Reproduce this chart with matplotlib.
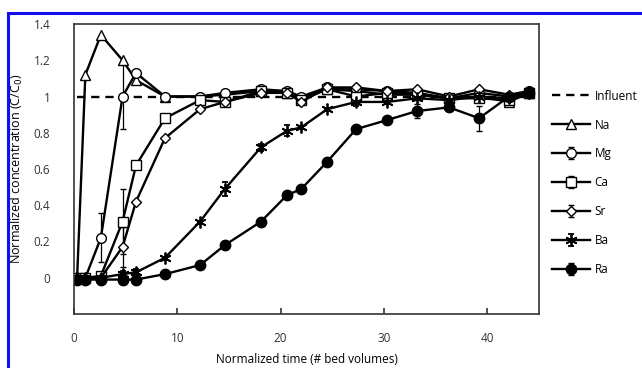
import matplotlib
matplotlib.use('Agg')
import matplotlib.pyplot as plt
from matplotlib.patches import Rectangle

plt.rcParams['font.family'] = ['Open Sans', 'DejaVu Sans']

# bed volumes, shared by all elements
bed_volumes = [0.3, 1.1, 2.6, 4.7, 6.0, 8.8, 12.2, 14.6, 18.1, 20.6, 22.0,
               24.5, 27.3, 30.3, 33.2, 36.3, 39.2, 42.1, 44.0]

na = [0, 1.12, 1.34, 1.2, 1.09, 1.0, 1.0, 1.01, 1.03, 1.02, 0.99,
      1.04, 1.03, 1.01, 1.01, 0.99, 1.0, 0.97, 1.02]
mg = [0, 0, 0.22, 1.0, 1.13, 1.0, 1.0, 1.02, 1.04, 1.03, 1.0,
      1.05, 1.04, 1.03, 1.02, 0.99, 1.02, 1.0, 1.03]
ca = [0, 0, 0.01, 0.31, 0.62, 0.88, 0.98, 0.97, 1.03, 1.02, 0.98,
      1.04, 1.0, 1.02, 1.01, 0.99, 0.99, 0.98, 1.02]
sr = [0, 0, 0, 0.17, 0.42, 0.77, 0.93, 0.97, 1.02, 1.02, 0.97,
      1.05, 1.05, 1.03, 1.04, 1.0, 1.04, 1.01, 1.03]
ba = [0, 0, 0, 0.02, 0.03, 0.11, 0.31, 0.49, 0.72, 0.81, 0.83,
      0.93, 0.97, 0.97, 0.99, 0.98, 1.0, 0.99, 1.02]
ra = [-0.01, -0.01, -0.01, -0.01, -0.01, 0.02, 0.07, 0.18, 0.31, 0.455, 0.49,
      0.64, 0.82, 0.87, 0.92, 0.94, 0.88, 1.0, 1.02]

mg_err = [0, 0, 0.135, 0.18, 0, 0, 0, 0, 0, 0, 0, 0, 0, 0, 0, 0, 0, 0, 0]
ca_err = [0, 0, 0, 0.18, 0, 0, 0, 0, 0, 0, 0, 0, 0, 0, 0, 0, 0.02, 0, 0]
sr_err = [0, 0, 0, 0.11, 0, 0, 0, 0, 0, 0, 0, 0, 0, 0, 0, 0, 0, 0, 0]
ba_err = [0, 0, 0, 0.02, 0.02, 0, 0, 0.04, 0.02, 0.03, 0, 0, 0.02, 0, 0, 0, 0, 0.02, 0]
ra_err = [0, 0, 0, 0, 0, 0, 0, 0, 0.02, 0, 0, 0, 0, 0, 0.04, 0, 0.07, 0, 0]

influent_x = [0.3, 44.0]
influent_y = [1, 1]

fig = plt.figure(figsize=(6.42, 3.68), dpi=100)
ax = fig.add_axes([74 / 642, 1 - 314 / 368, 465 / 642, 290 / 368])

ax.plot(influent_x, influent_y, color='black', lw=1.7, ls=(0, (3.5, 2.5)),
        label='Influent')

series = [
    ('Na', na, None, dict(marker='^', mfc='white', ms=7)),
    ('Mg', mg, mg_err, dict(marker='o', mfc='white', ms=7)),
    ('Ca', ca, ca_err, dict(marker='s', mfc='white', ms=6.5)),
    ('Sr', sr, sr_err, dict(marker='D', mfc='white', ms=4.8)),
    ('Ba', ba, ba_err, dict(marker=(6, 2, 0), ms=8.5, mew=1.3)),
    ('Ra', ra, ra_err, dict(marker='o', mfc='black', ms=7.5)),
]
for name, vals, err, style in series:
    ax.errorbar(bed_volumes, vals, yerr=err, color='black', lw=1.7,
                elinewidth=0.9, capsize=2.5, mec='black', label=name, **style)

ax.set_xlim(0, 45)
ax.set_ylim(-0.2, 1.4)
ax.set_xticks([0, 10, 20, 30, 40])
ax.set_yticks([0, 0.2, 0.4, 0.6, 0.8, 1, 1.2, 1.4])
ax.set_yticklabels(['0', '0.2', '0.4', '0.6', '0.8', '1', '1.2', '1.4'])
ax.tick_params(axis='x', direction='in', length=4, width=1.2, pad=13,
               labelsize=8.5, colors='#333333')
ax.tick_params(axis='y', length=0, pad=17, labelsize=8.5, colors='#333333')
for sp in ax.spines.values():
    sp.set_linewidth(1.2)
    sp.set_color('#333333')

ax.set_xlabel('Normalized time (# bed volumes)', fontsize=8.5, labelpad=6)
ax.set_ylabel('Normalized concentration (C/C$_0$)', fontsize=9, labelpad=6)

handles, labels = ax.get_legend_handles_labels()
leg = ax.legend(handles, labels, loc='upper left', bbox_to_anchor=(1.018, 0.79),
                frameon=False, fontsize=8.5, labelspacing=1.35,
                handlelength=3.2, handletextpad=0.4, borderaxespad=0)

# blue frame of the source figure (partly cropped)
fig.add_artist(Rectangle((8 / 642, -0.1), 1.2, 1.1 - 13 / 368,
                         transform=fig.transFigure, fill=False,
                         edgecolor='#1010ee', lw=2.2, clip_on=False))

fig.savefig('out.png', dpi=100)
